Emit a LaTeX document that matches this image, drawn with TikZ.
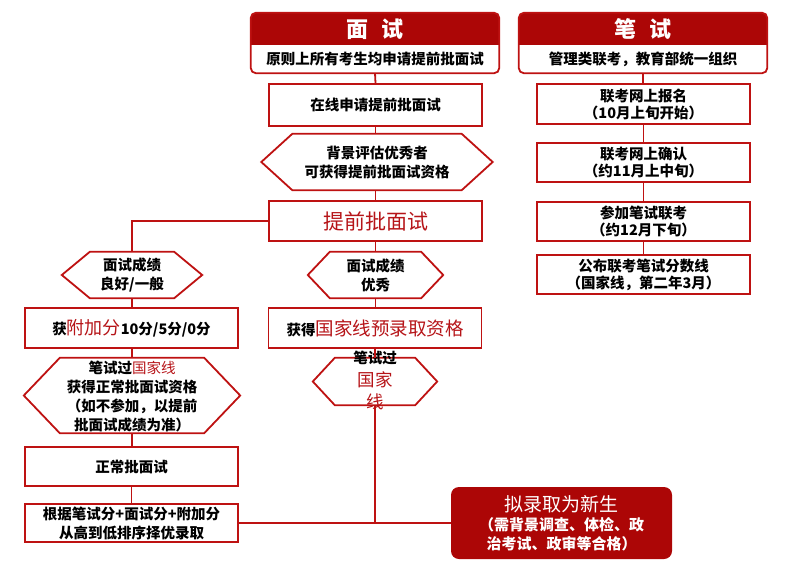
\documentclass[tikz,border=0pt]{standalone}
\usepackage{fontspec}
\newfontfamily\cjk{Noto Sans CJK SC}
\usetikzlibrary{calc}
\definecolor{bred}{RGB}{190,18,18}
\definecolor{hred}{RGB}{172,6,6}
\definecolor{tred}{RGB}{182,20,24}
\newcommand\hexdraw[2]{\draw[cline] (#1.west) -- ([xshift=#2]#1.north west) -- ([xshift=-#2]#1.north east) -- (#1.east) -- ([xshift=-#2]#1.south east) -- ([xshift=#2]#1.south west) -- cycle;}
\newcommand\redt[1]{{\mdseries\color{tred}#1}}
\begin{document}
\begin{tikzpicture}[x=1pt,y=-1pt,
  cline/.style={draw=bred,line width=1.8pt},
  box/.style={cline, fill=white, minimum width=213pt, minimum height=40pt, inner sep=0pt, align=center, font=\cjk\bfseries\fontsize{14.5}{17}\selectfont},
  hexn/.style={inner sep=0pt},
  htxt/.style={inner sep=0pt, align=center, font=\cjk\bfseries\fontsize{14.5}{19}\selectfont},
  head/.style={inner sep=0pt, text=white, font=\cjk\bfseries\fontsize{22}{24}\selectfont},
  sub/.style={inner sep=0pt, font=\cjk\bfseries\fontsize{14.5}{17}\selectfont},
  hbox/.style={minimum width=248pt, minimum height=60pt, inner sep=0pt}
]
\useasboundingbox (0,0) rectangle (800,573);

% header boxes
\foreach \cx/\nm in {375/mian,643/bi}{
  \node[hbox] (\nm box) at (\cx,43) {};
  \begin{scope}
    \clip[rounded corners=5pt] (\nm box.north west) rectangle (\nm box.south east);
    \fill[hred] (\nm box.north west) rectangle ($(\nm box.north east)+(0,32)$);
  \end{scope}
  \draw[cline,rounded corners=5pt] (\nm box.north west) rectangle (\nm box.south east);
}
\node[head] (miantitle) at (375,29) {面\hspace{0.6em}试};
\node[sub] (miansub) at (375,59.5) {原则上所有考生均申请提前批面试};
\node[head] (bititle) at (643,29) {笔\hspace{0.6em}试};
\node[sub] (bisub) at (643,59.5) {管理类联考，教育部统一组织};

% middle column
\node[box, minimum height=42pt] (zaixian) at (375.5,105) {在线申请提前批面试};
\node[hexn, minimum width=231pt, minimum height=56pt] (bj) at (377,162) {};
\hexdraw{bj}{31pt}
\node[htxt] (bjt) at (bj) {背景评估优秀者\\可获得提前批面试资格};
\node[box] (tiqian) at (375.5,221) {\fontsize{21}{24}\selectfont\redt{提前批面试}};
\node[hexn, minimum width=135pt, minimum height=46pt] (yx) at (375.5,275) {};
\hexdraw{yx}{22pt}
\node[htxt] (yxt) at (yx) {面试成绩\\优秀};
\node[box] (huode) at (375,328) {获得{\fontsize{18.5}{20}\selectfont\redt{国家线预录取资格}}};
\node[hexn, minimum width=124pt, minimum height=47pt] (gj) at (375,381.5) {};
\hexdraw{gj}{22pt}
\node[htxt, font=\cjk\bfseries\fontsize{14.5}{22.5}\selectfont] (gjt) at (375,380.5) {笔试过\\{\fontsize{17.5}{22.5}\selectfont\redt{国家}}\\{\fontsize{17.5}{22.5}\selectfont\redt{线}}};

% left column
\node[hexn, minimum width=140pt, minimum height=46pt] (lh) at (132,275) {};
\hexdraw{lh}{28pt}
\node[htxt] (lht) at (lh) {面试成绩\\良好/一般};
\node[box] (fujia) at (131.5,328) {获{\fontsize{18}{20}\selectfont\redt{附加分}}10分/5分/0分};
\node[hexn, minimum width=216pt, minimum height=75pt] (gh) at (132,395.5) {};
\hexdraw{gh}{36pt}
\node[htxt, font=\cjk\bfseries\fontsize{14.5}{18.8}\selectfont] (ght) at (132,396.5) {笔试过\redt{国家线}\\获得正常批面试资格\\（如不参加，以提前\\批面试成绩为准）};
\node[box, minimum height=39pt] (zc) at (131.5,466.5) {正常批面试};
\node[box, minimum height=38pt, font=\cjk\bfseries\fontsize{14.5}{19}\selectfont] (genju) at (131.5,523) {根据笔试分+面试分+附加分\\从高到低排序择优录取};

% right column
\node[box] (r1) at (643.5,104) {联考网上报名\\（10月上旬开始）};
\node[box, minimum height=39pt] (r2) at (643.5,162.5) {联考网上确认\\（约11月上中旬）};
\node[box, minimum height=39pt] (r3) at (643.5,221.5) {参加笔试联考\\（约12月下旬）};
\node[box, minimum height=39pt] (r4) at (643.5,274.5) {公布联考笔试分数线\\（国家线，第二年3月）};

% final
\node[fill=hred, rounded corners=8pt, minimum width=221pt, minimum height=72pt, inner sep=0pt, text=white, align=center, font=\cjk\bfseries\fontsize{15}{19}\selectfont] (final) at (561.5,523) {{\mdseries\fontsize{19}{23}\selectfont 拟录取为新生}\\（需背景调查、体检、政\\治考试、政审等合格）};
\coordinate (j) at (375,523);

% connectors
\draw[cline] (mianbox.south) -- (zaixian.north);
\draw[cline] (zaixian.south) -- (bj.north -| zaixian.south);
\draw[cline] (bj.south -| tiqian.north) -- (tiqian.north);
\draw[cline] (tiqian.south) -- (yx.north);
\draw[cline] (yx.south) -- (huode.north -| yx.south);
\draw[cline] (huode.south) -- (gj.north);
\draw[cline] (gj.south) -- (j);
\draw[cline] (tiqian.west) -| (lh.north);
\draw[cline] (lh.south) -- (fujia.north -| lh.south);
\draw[cline] (fujia.south -| gh.north) -- (gh.north);
\draw[cline] (gh.south) -- (zc.north -| gh.south);
\draw[cline] (zc.south) -- (genju.north);
\draw[cline] (genju.east) -- (final.west);
\draw[cline] (bibox.south) -- (bibox.south |- r1.north);
\draw[cline] (r1.south) -- (r2.north);
\draw[cline] (r2.south) -- (r3.north);
\draw[cline] (r3.south) -- (r4.north);
\end{tikzpicture}
\end{document}
